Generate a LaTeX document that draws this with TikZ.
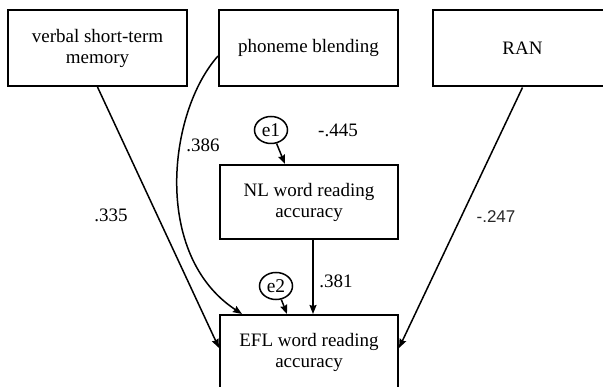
\documentclass[tikz,border=0pt]{standalone}
\usepackage{fontspec}
\setmainfont{Liberation Serif}
\newfontfamily\sansnum{Liberation Sans}
\usetikzlibrary{arrows.meta,shapes.geometric}

\tikzset{
  varbox/.style={draw, line width=2pt, minimum width=179pt, minimum height=76pt,
    inner sep=0pt, align=center, font=\fontsize{19}{21}\selectfont},
  errnode/.style={draw, ellipse, line width=1.5pt, minimum width=33pt, minimum height=27pt,
    inner sep=0pt, font=\fontsize{19.5}{21}\selectfont},
  path/.style={line width=1.5pt, -{Stealth[length=9pt,width=7pt,inset=1pt]}},
  coef/.style={inner sep=0pt, font=\fontsize{19}{21}\selectfont},
}

\begin{document}
\begin{tikzpicture}[x=1pt,y=-1pt]
  \useasboundingbox (0,0) rectangle (603,387);
  \clip (0,0) rectangle (603,387);

  % predictors
  \node[varbox] (vstm) at (97.5,48) {verbal short-term\\memory};
  \node[varbox] (pb)   at (308.5,48) {phoneme blending};
  \node[varbox] (ran)  at (522.5,48.5) {RAN};

  % outcomes
  \node[varbox, minimum width=178pt, minimum height=74pt] (nl)  at (309,202) {NL word reading\\accuracy};
  \node[varbox, minimum width=178pt, minimum height=75pt] (efl) at (309,352.5) {EFL word reading\\accuracy};

  % error terms
  \node[errnode] (e1) at (271,130) {e1};
  \node[errnode] (e2) at (276,286) {e2};

  % paths
  \draw[path] (vstm.south) -- ([yshift=4.5pt]efl.west);
  \draw[path] (ran.south) -- ([yshift=4.5pt]efl.east);
  \draw[path] ([xshift=4pt]nl.south) -- ([xshift=4pt]efl.north);
  \draw[path] (e1) -- ([xshift=-24pt]nl.north);
  \draw[path] (e2) -- ([xshift=-22pt]efl.north);
  \draw[path] ([yshift=-8pt]pb.west) .. controls (168,112) and (152,255) .. ([xshift=-67pt]efl.north);

  % coefficients
  \node[coef] (c335) at (111,215) {.335};
  \node[coef] (c386) at (203,145) {.386};
  \node[coef] (c445) at (338,130) {-.445};
  \node[coef] (c381) at (336,281) {.381};
  \node[inner sep=0pt, font=\sansnum\fontsize{17}{19}\selectfont, text=black!85] (c247) at (496,217) {-.247};
\end{tikzpicture}
\end{document}
